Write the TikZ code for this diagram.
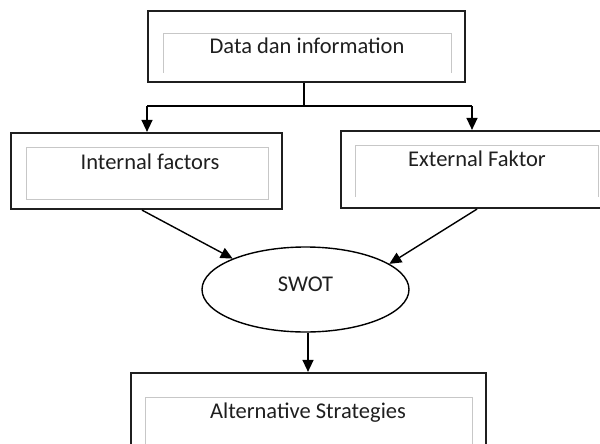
\documentclass[tikz,border=0pt]{standalone}
\usepackage{fontspec}
\setmainfont{Carlito}
\usetikzlibrary{arrows.meta,shapes.geometric}
\begin{document}
\begin{tikzpicture}[x=1pt,y=-1pt,
  outerbox/.style={draw=black!88,line width=2.2pt,rectangle,inner sep=0pt},
  innerline/.style={draw=black!22,line width=0.9pt},
  lbl/.style={font=\fontsize{22.5}{26}\selectfont,text=black!88,inner sep=0pt,anchor=base},
  conn/.style={line width=1.4pt,draw=black},
  arr/.style={conn,-{Triangle[length=12pt,width=11pt]}}]
\useasboundingbox (0,0) rectangle (600,444);
\begin{scope}
\clip (0,0) rectangle (600,444);
% boxes
\node[outerbox,minimum width=317pt,minimum height=71pt] (top) at (306.5,46.5) {};
\node[outerbox,minimum width=271pt,minimum height=76pt] (int) at (146.5,171) {};
\node[outerbox,minimum width=264pt,minimum height=77pt] (ext) at (473,169.5) {};
\node[outerbox,minimum width=355pt,minimum height=90pt] (bot) at (308.5,418) {};
\node[draw=black,line width=1.4pt,ellipse,minimum width=207pt,minimum height=85pt,inner sep=0pt] (sw) at (305.5,289.5) {};
% inner frames
\draw[innerline] (163,73) -- (163,33) -- (451,33) -- (451,73);
\draw[innerline] (26,147) rectangle (268,199);
\draw[innerline] (355,197) -- (355,145) -- (598,145) -- (598,197);
\draw[innerline] (145,450) -- (145,397) -- (472,397) -- (472,450);
% labels
\node[lbl] (tl) at (307,54) {Data dan information};
\node[lbl] (il) at (150,169) {Internal factors};
\node[lbl] (el) at (477,166) {External Faktor};
\node[lbl] (sl) at (305.5,291) {SWOT};
\node[lbl] (bl) at (308,418) {Alternative Strategies};
% connectors
\coordinate (j) at (304,106);
\coordinate (jl) at (147,106);
\coordinate (jr) at (472,106);
\draw[conn] (top.south -| j) -- (j);
\draw[conn] (jl) -- (jr);
\draw[arr] (jl) -- (jl |- int.north);
\draw[arr] (jr) -- (jr |- ext.north);
\draw[arr] ([xshift=-4.5pt]int.south) -- (sw.157);
\draw[arr] ([xshift=4pt]ext.south) -- (sw.17);
\draw[arr] ([xshift=2.5pt]sw.south) -- ([xshift=2.5pt]sw.south |- bot.north);
\end{scope}
\end{tikzpicture}
\end{document}
